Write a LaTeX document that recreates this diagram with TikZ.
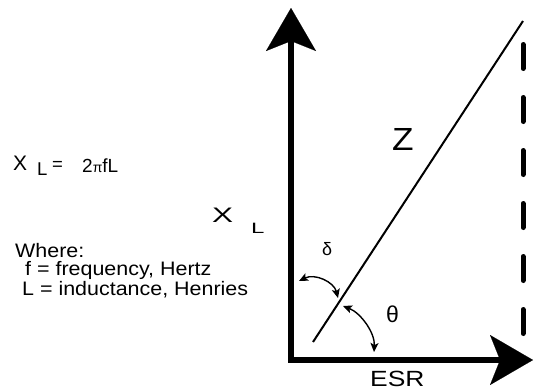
\documentclass[tikz,border=0pt]{standalone}
\usepackage{fontspec}
\setmainfont{Liberation Sans}
\usepackage{graphicx}
\usetikzlibrary{arrows.meta}
\newcommand{\wide}[2]{\scalebox{#1}[1]{#2}}
\newcommand{\fs}[1]{\fontsize{#1}{#1}\selectfont}
\tikzset{
  axis/.style={line width=6pt, line join=miter,
    {Stealth[length=43pt,width=50pt,inset=10pt,line width=0.1pt]}-{Stealth[length=43pt,width=50pt,inset=10pt,line width=0.1pt]}},
  zline/.style={line width=2pt},
  dashline/.style={line width=5pt, line cap=round, dash pattern=on 24pt off 29pt},
  angarr/.style={line width=1.4pt,
    {Stealth[length=9pt,width=8pt,inset=2pt]}-{Stealth[length=9pt,width=8pt,inset=2pt]}},
  txt/.style={inner sep=0pt, anchor=base west}
}
\begin{document}
\begin{tikzpicture}[x=1pt, y=-1pt]
\useasboundingbox (0,0) rectangle (540,391);
% axes
\coordinate (ytop) at (291,8);
\coordinate (origin) at (291,360);
\coordinate (xtip) at (533,360);
\draw[axis] (ytop) -- (origin) -- (xtip);
% impedance and its dashed projection
\coordinate (zlow) at (313,342);
\coordinate (zhigh) at (523,21);
\draw[zline] (zlow) -- (zhigh);
\coordinate (dtop) at (523,44.5);
\coordinate (dbot) at (523,335.5);
\draw[dashline] (dtop) -- (dbot);
% angle arrows
\coordinate (d1) at (299,281);
\coordinate (d2) at (338,298);
\draw[angarr] (d1) .. controls (315,273) and (334,282) .. (d2);
\coordinate (t1) at (343,306);
\coordinate (t2) at (374,352);
\draw[angarr] (t1) .. controls (361,313) and (375,333) .. (t2);
% labels
\node[txt] (xl) at (13,170) {\fs{21}X};
\node[txt] (xlsub) at (37,175) {\fs{18.5}L};
\node[txt] (eq) at (52,170) {\fs{18.5}=};
\node[txt] (law) at (82,172) {\fs{19}2{\fs{14}π}fL};
\node[txt] (where) at (15,257) {\fs{19.5}\wide{1.1}{Where:}};
\node[txt] (freq) at (25,275.5) {\fs{19.5}\wide{1.1}{f = frequency, Hertz}};
\node[txt] (induct) at (22,295) {\fs{19.5}\wide{1.1}{L = inductance, Henries}};
\node[txt] (axisx) at (212,222) {\fs{21}\wide{1.5}{X}};
\node[txt] (axisl) at (251,233) {\fs{15}\wide{1.6}{L}};
\node[txt] (zlabel) at (392,150) {\fs{32}\wide{1.1}{Z}};
\node[txt] (delta) at (322,255) {\fs{18}δ};
\node[txt] (theta) at (386,322) {\fs{23}θ};
\node[txt] (esr) at (370,386) {\fs{22}\wide{1.2}{ESR}};
\end{tikzpicture}
\end{document}
